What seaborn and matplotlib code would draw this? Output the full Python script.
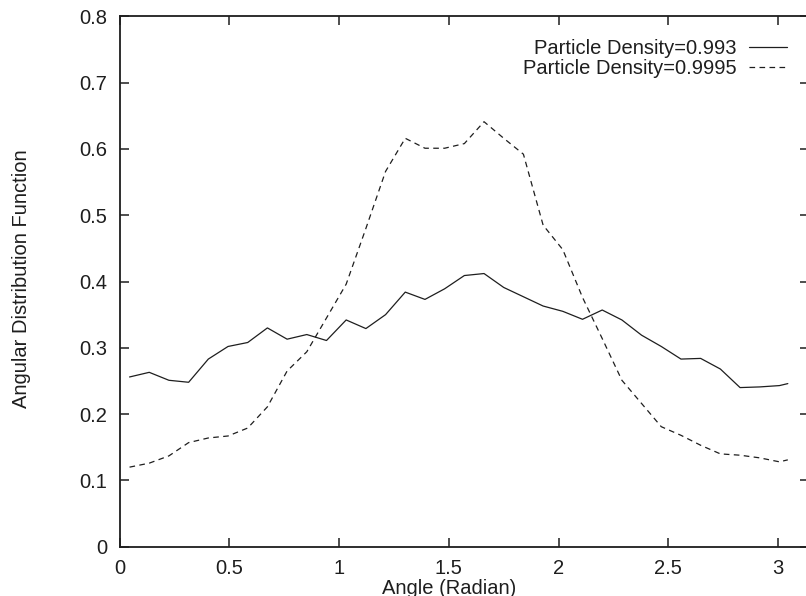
import matplotlib
matplotlib.use("Agg")
import matplotlib.pyplot as plt
import seaborn as sns
import pandas as pd

angle = [0.0449, 0.1346, 0.2244, 0.3142, 0.4039, 0.4937, 0.5835, 0.6732, 0.7630,
         0.8527, 0.9425, 1.0322, 1.1220, 1.2117, 1.3015, 1.3913, 1.4810, 1.5708,
         1.6605, 1.7503, 1.8400, 1.9298, 2.0196, 2.1093, 2.1991, 2.2888, 2.3786,
         2.4683, 2.5581, 2.6478, 2.7376, 2.8274, 2.9171, 3.0069, 3.045]

adf_0993 = [0.256, 0.263, 0.251, 0.248, 0.283, 0.302, 0.308, 0.330, 0.313,
            0.320, 0.311, 0.342, 0.329, 0.350, 0.384, 0.373, 0.389, 0.409,
            0.412, 0.391, 0.377, 0.363, 0.355, 0.343, 0.357, 0.342, 0.319,
            0.302, 0.283, 0.284, 0.268, 0.240, 0.241, 0.243, 0.246]

adf_09995 = [0.120, 0.126, 0.137, 0.157, 0.164, 0.167, 0.179, 0.211, 0.265,
             0.294, 0.345, 0.396, 0.480, 0.566, 0.616, 0.601, 0.601, 0.608,
             0.641, 0.616, 0.592, 0.485, 0.448, 0.376, 0.314, 0.251, 0.216,
             0.181, 0.168, 0.153, 0.140, 0.138, 0.134, 0.128, 0.131]

labels = ["Particle Density=0.993", "Particle Density=0.9995"]
xticks = [0, 0.5, 1, 1.5, 2, 2.5, 3]
xticklabels = ["0", "0.5", "1", "1.5", "2", "2.5", "3"]
yticks = [0, 0.1, 0.2, 0.3, 0.4, 0.5, 0.6, 0.7, 0.8]
yticklabels = ["0", "0.1", "0.2", "0.3", "0.4", "0.5", "0.6", "0.7", "0.8"]

sns.set_style("ticks")
plt.rcParams["font.family"] = ["Liberation Sans", "DejaVu Sans"]

fig = plt.figure(figsize=(8.06, 5.96), dpi=100)
W, H = 806, 596
left, right, top, bottom = 119.7, 809.0, 16.3, 546.7
ax = fig.add_axes([left / W, 1 - bottom / H, (right - left) / W, (bottom - top) / H])

FS = 14.5
ink = "#1e1e1e"
df1 = pd.DataFrame({"angle": angle, "adf": adf_0993})
df2 = pd.DataFrame({"angle": angle, "adf": adf_09995})
sns.lineplot(data=df1, x="angle", y="adf", ax=ax, color=ink, lw=0.9,
             label=labels[0])
sns.lineplot(data=df2, x="angle", y="adf", ax=ax, color=ink, lw=0.9,
             linestyle=(0, (4.5, 3.5)), label=labels[1])

ax.set_xlim(0, 3.14159)
ax.set_ylim(0, 0.8)
ax.set_xticks(xticks)
ax.set_xticklabels(xticklabels)
ax.set_yticks(yticks)
ax.set_yticklabels(yticklabels)
ax.tick_params(axis="both", which="major", direction="in", length=6.5,
               width=1.1, color=ink, labelsize=FS, labelcolor=ink,
               top=True, right=True)
ax.tick_params(axis="x", pad=8.5)
ax.tick_params(axis="y", pad=9)
for s in ax.spines.values():
    s.set_visible(True)
    s.set_linewidth(1.3)
    s.set_color(ink)

ax.set_xlabel("Angle (Radian)", fontsize=FS, color=ink)
ax.set_ylabel("Angular Distribution Function", fontsize=FS, color=ink)
ax.xaxis.set_label_coords(0.478, -0.06)
ax.yaxis.set_label_coords(-0.129, 0.5057)

leg = ax.legend(loc="upper right",
                bbox_to_anchor=((787 - left) / (right - left), (bottom - 39) / (bottom - top)),
                frameon=False, markerfirst=False, fontsize=FS, borderpad=0,
                borderaxespad=0, handlelength=1.9, handletextpad=0.62,
                labelspacing=0.06)
for t in leg.get_texts():
    t.set_color(ink)

fig.savefig("out.png", dpi=100)
